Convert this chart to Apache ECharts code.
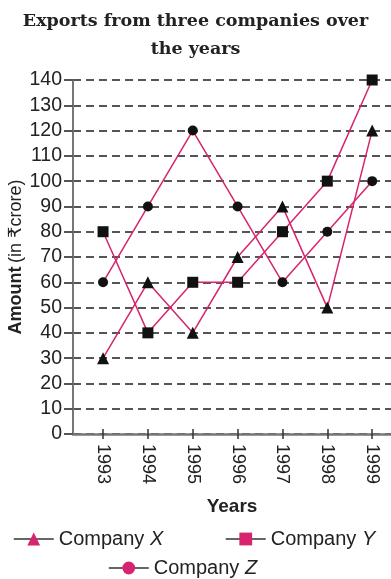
<!DOCTYPE html>
<html>
<head>
<meta charset="utf-8">
<script src="https://cdn.jsdelivr.net/npm/echarts@6/dist/echarts.min.js"></script>
<style>
  html, body { margin: 0; padding: 0; background: #fff; }
  #main { width: 391px; height: 579px; }
</style>
</head>
<body>
<div id="main"></div>
<script>
// values
var years = [1993, 1994, 1995, 1996, 1997, 1998, 1999];
var companyX = [30, 60, 40, 70, 90, 50, 120];
var companyY = [80, 40, 60, 60, 80, 100, 140];
var companyZ = [60, 90, 120, 90, 60, 80, 100];
var yTicks = [0, 10, 20, 30, 40, 50, 60, 70, 80, 90, 100, 110, 120, 130, 140];

var pink = '#d6246e';
var sans = 'Liberation Sans, Arial, DejaVu Sans';

function pairs(vals) {
  return years.map(function (y, i) { return [y, vals[i]]; });
}

function makeSeries(name, vals, symbol, size) {
  return {
    name: name,
    type: 'line',
    data: pairs(vals),
    symbol: symbol,
    symbolSize: size,
    lineStyle: { color: pink, width: 1.5 },
    itemStyle: { color: '#111' },
    z: 3
  };
}

function legendAt(name, left, top) {
  return {
    left: left, top: top,
    itemWidth: 40, itemHeight: 16, itemGap: 0,
    data: [{
      name: name,
      itemStyle: { color: pink },
      lineStyle: { color: '#333', width: 1.5 }
    }],
    formatter: function (n) { return '{a|Company }{b|' + n.slice(-1) + '}'; },
    textStyle: {
      rich: {
        a: { fontFamily: sans, fontSize: 20, color: '#222' },
        b: { fontFamily: sans, fontSize: 20, color: '#222', fontStyle: 'italic' }
      }
    }
  };
}

var chart = echarts.init(document.getElementById('main'));
chart.setOption({
  animation: false,
  title: {
    text: 'Exports from three companies over\nthe years',
    left: 'center', top: 2,
    textStyle: {
      fontFamily: 'DejaVu Serif', fontSize: 17.5, fontWeight: 'bold',
      color: '#222', lineHeight: 28
    }
  },
  legend: [
    legendAt('Company X', 8, 524),
    legendAt('Company Y', 220, 524),
    legendAt('Company Z', 103, 553)
  ],
  grid: { left: 73, right: 0, top: 80, bottom: 145, outerBoundsMode: 'none', containLabel: false },
  xAxis: [{
    type: 'value',
    min: 1992.33, max: 1999.42,
    splitLine: { show: false },
    axisLine: { lineStyle: { color: '#777', width: 2.5 } },
    axisTick: { customValues: years, length: 5, inside: false, lineStyle: { color: '#333', width: 1.5 } },
    axisLabel: {
      customValues: years, rotate: -90, margin: 10,
      fontFamily: sans, fontSize: 18, color: '#222',
      formatter: function (v) { return String(v); }
    },
    name: 'Years', nameLocation: 'middle', nameGap: 63,
    nameTextStyle: { fontFamily: sans, fontSize: 19, fontWeight: 'bold', color: '#222' }
  }, {
    type: 'value', position: 'bottom',
    min: 1992.33, max: 1999.42,
    splitLine: { show: false },
    axisLine: { show: false },
    axisTick: { customValues: years, length: 5, inside: true, lineStyle: { color: '#333', width: 1.5 } },
    axisLabel: { show: false }
  }],
  yAxis: {
    type: 'value', min: 0, max: 140, interval: 10,
    axisLine: { show: true, lineStyle: { color: '#777', width: 2 } },
    axisTick: { show: true, length: 9, lineStyle: { color: '#555', width: 2 } },
    axisLabel: {
      margin: 11, fontFamily: sans, fontSize: 19.5, color: '#222',
      formatter: function (v) { return yTicks.indexOf(v) >= 0 ? String(v) : ''; }
    },
    splitLine: { lineStyle: { color: '#555', width: 2, type: [8, 5] } },
    name: '{a|Amount} {b|(in ₹crore)}', nameLocation: 'middle', nameGap: 48, nameRotate: 90,
    nameMoveOverlap: false,
    nameTextStyle: {
      rich: {
        a: { fontFamily: sans, fontSize: 18, fontWeight: 'bold', color: '#222' },
        b: { fontFamily: sans, fontSize: 18, color: '#222' }
      }
    }
  },
  series: [
    makeSeries('Company X', companyX, 'triangle', 12),
    makeSeries('Company Y', companyY, 'rect', 11),
    makeSeries('Company Z', companyZ, 'circle', 10)
  ]
});
</script>
</body>
</html>
